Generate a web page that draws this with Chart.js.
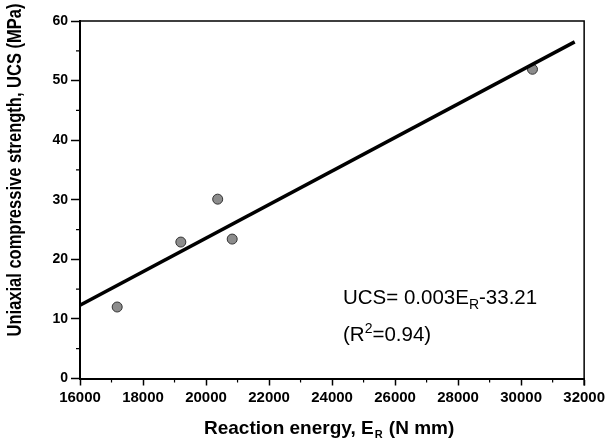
<!DOCTYPE html>
<html lang="en">
<head>
    <meta charset="utf-8">
    <title>UCS vs reaction energy</title>
    <script src="https://cdn.jsdelivr.net/npm/chart.js"></script>
    <style>
        html, body { margin: 0; padding: 0; background: #fff; }
        #wrap { width: 608px; height: 445px; }
    </style>
</head>
<body>
    <div id="wrap"><canvas id="myChart" width="608" height="445"></canvas></div>
    <script>
        // measured points
        const energy = [17180, 19200, 20370, 20830, 30360];
        const ucs = [12.0, 22.9, 30.1, 23.4, 51.9];
        // fitted line as drawn
        const fitX = [16000, 31700];
        const fitY = [12.3, 56.5];

        const xTicks = [16000, 18000, 20000, 22000, 24000, 26000, 28000, 30000, 32000];
        const yTicks = [0, 10, 20, 30, 40, 50, 60];

        const FONT = '"Liberation Sans", Arial, sans-serif';

        // minor ticks, frame, titles, equation
        const extras = {
            id: 'extras',
            afterDraw(chart) {
                const ctx = chart.ctx;
                const a = chart.chartArea;
                const xs = chart.scales.x, ys = chart.scales.y;
                ctx.save();
                ctx.strokeStyle = '#000';
                ctx.lineWidth = 1.5;
                // frame top / right
                ctx.beginPath();
                ctx.moveTo(a.left, a.top);
                ctx.lineTo(a.right, a.top);
                ctx.lineTo(a.right, a.bottom + 7);
                ctx.stroke();
                // minor ticks
                ctx.lineWidth = 1.2;
                ctx.beginPath();
                for (let i = 0; i < xTicks.length - 1; i++) {
                    const px = xs.getPixelForValue((xTicks[i] + xTicks[i + 1]) / 2);
                    ctx.moveTo(px, a.bottom);
                    ctx.lineTo(px, a.bottom + 4);
                }
                for (let i = 0; i < yTicks.length - 1; i++) {
                    const py = ys.getPixelForValue((yTicks[i] + yTicks[i + 1]) / 2);
                    ctx.moveTo(a.left, py);
                    ctx.lineTo(a.left - 4, py);
                }
                ctx.stroke();

                ctx.fillStyle = '#000';
                // y title (a bit stretched across, like the scan)
                ctx.save();
                ctx.translate(16, 170);
                ctx.rotate(-Math.PI / 2);
                ctx.scale(1, 1.2);
                ctx.font = 'bold 16.5px ' + FONT;
                ctx.textAlign = 'center';
                ctx.textBaseline = 'middle';
                ctx.fillText('Uniaxial compressive strength, UCS (MPa)', 0, 0);
                ctx.restore();

                // x title with subscript
                ctx.textBaseline = 'alphabetic';
                ctx.textAlign = 'left';
                let x = 204;
                const yb = 434;
                ctx.font = 'bold 19px ' + FONT;
                ctx.fillText('Reaction energy, E', x, yb);
                x += ctx.measureText('Reaction energy, E').width;
                ctx.font = 'bold 11px ' + FONT;
                ctx.fillText('R', x + 1, yb + 4);
                x += ctx.measureText('R').width + 2;
                ctx.font = 'bold 19px ' + FONT;
                ctx.fillText(' (N mm)', x, yb);

                // equation
                x = 343;
                ctx.font = '20.5px ' + FONT;
                ctx.fillText('UCS= 0.003E', x, 304);
                x += ctx.measureText('UCS= 0.003E').width;
                ctx.font = '14px ' + FONT;
                ctx.fillText('R', x, 309);
                x += ctx.measureText('R').width;
                ctx.font = '20.5px ' + FONT;
                ctx.fillText('-33.21', x, 304);

                x = 343;
                ctx.fillText('(R', x, 341);
                x += ctx.measureText('(R').width;
                ctx.font = '14px ' + FONT;
                ctx.fillText('2', x, 333);
                x += ctx.measureText('2').width;
                ctx.font = '20.5px ' + FONT;
                ctx.fillText('=0.94)', x, 341);
                ctx.restore();
            }
        };

        const ctx = document.getElementById('myChart').getContext('2d');
        const myChart = new Chart(ctx, {
            type: 'scatter',
            data: {
                datasets: [
                    {
                        label: 'data',
                        data: energy.map((e, i) => ({ x: e, y: ucs[i] })),
                        backgroundColor: '#8c8c8c',
                        borderColor: '#333',
                        borderWidth: 1,
                        pointRadius: 5,
                        order: 1
                    },
                    {
                        label: 'fit',
                        type: 'line',
                        data: fitX.map((e, i) => ({ x: e, y: fitY[i] })),
                        borderColor: '#000',
                        borderWidth: 3.5,
                        pointRadius: 0,
                        fill: false,
                        order: 0
                    }
                ]
            },
            options: {
                responsive: false,
                animation: false,
                layout: { padding: { top: 21, right: 23, left: 0, bottom: 0 } },
                plugins: { legend: { display: false }, tooltip: { enabled: false } },
                scales: {
                    x: {
                        type: 'linear',
                        min: 16000, max: 32000,
                        afterBuildTicks: s => { s.ticks = xTicks.map(v => ({ value: v })); },
                        afterFit: s => { s.height = 66.5; },
                        border: { display: true, color: '#000', width: 2 },
                        grid: { drawOnChartArea: false, tickLength: 7, tickColor: '#000', tickWidth: 1.5 },
                        ticks: {
                            color: '#000',
                            padding: 3,
                            maxRotation: 0,
                            font: { family: FONT, size: 15, weight: 'bold' },
                            callback: v => String(v)
                        }
                    },
                    y: {
                        min: 0, max: 60,
                        afterBuildTicks: s => { s.ticks = yTicks.map(v => ({ value: v })); },
                        afterFit: s => { s.width = 80; },
                        border: { display: true, color: '#000', width: 2 },
                        grid: { drawOnChartArea: false, tickLength: 9, tickColor: '#000', tickWidth: 1.5 },
                        ticks: {
                            color: '#000',
                            padding: 3,
                            font: { family: FONT, size: 14, weight: 'bold' }
                        }
                    }
                }
            },
            plugins: [extras]
        });
    </script>
</body>
</html>
